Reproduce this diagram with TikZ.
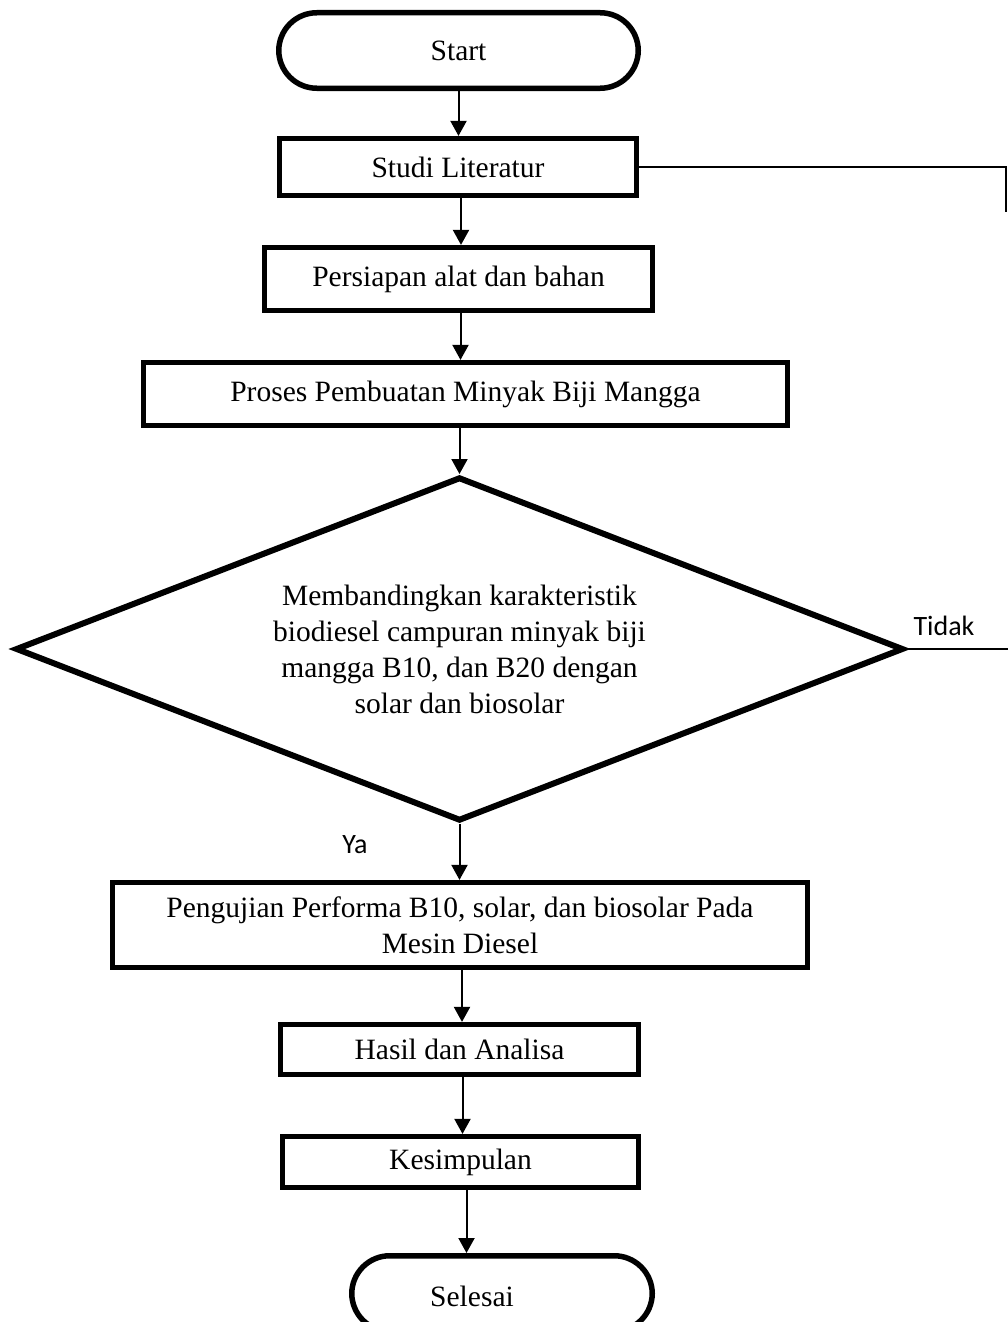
\documentclass[tikz,border=0pt]{standalone}
\usepackage{fontspec}
\setmainfont{Liberation Serif}
\newfontfamily\calibfont{Carlito}
\usetikzlibrary{shapes.geometric,arrows.meta}
\newcommand\boxfont{\fontsize{29.5}{36}\selectfont}
\newcommand\lblfont{\calibfont\fontsize{28}{34}\selectfont}
\begin{document}
\begin{tikzpicture}[x=1pt,y=-1pt,
  box/.style={draw, line width=5.2pt, rectangle, font=\boxfont, align=center, inner sep=0pt},
  term/.style={draw, line width=5.5pt, rectangle, rounded corners=38pt, inner sep=0pt, font=\boxfont},
  dec/.style={draw, line width=6pt, diamond, shape aspect=2.6, inner sep=0pt, font=\boxfont, align=center},
  arr/.style={line width=2pt, -{Triangle[width=16pt,length=15pt]}},
  ln/.style={line width=2pt},
  lbl/.style={font=\lblfont, inner sep=0pt}]
\clip (0,0) rectangle (1008,1322);
\fill[white] (0,0) rectangle (1008,1322);
% nodes
\node[term, minimum width=359.5pt, minimum height=75.5pt] (start) at (458.5,50.5) {Start};
\node[box, minimum width=357pt, minimum height=57pt] (studi) at (458,167) {Studi Literatur};
\node[box, minimum width=388pt, minimum height=63pt] (pers) at (458.5,279) {Persiapan alat dan bahan};
\node[box, minimum width=644pt, minimum height=63pt] (proses) at (465.5,394) {Proses Pembuatan Minyak Biji Mangga};
\node[dec, minimum width=888pt, minimum height=344pt] (cek) at (459.5,649)
  {Membandingkan karakteristik\\biodiesel campuran minyak biji\\mangga B10, dan B20 dengan\\solar dan biosolar};
\node[box, minimum width=695pt, minimum height=85pt] (uji) at (460,925)
  {Pengujian Performa B10, solar, dan biosolar Pada\\Mesin Diesel};
\node[box, minimum width=358pt, minimum height=50pt] (hasil) at (459.5,1049.5) {Hasil dan Analisa};
\node[box, minimum width=356pt, minimum height=51pt] (kes) at (460.5,1162) {Kesimpulan};
\node[term, minimum width=300.5pt, minimum height=75.5pt] (selesai) at (502,1293.5) {};
\node[font=\boxfont, inner sep=0pt] (selesaitxt) at (472,1296) {Selesai};
% labels
\node[lbl] (tidak) at (944,626) {Tidak};
\node[lbl] (ya) at (355,845) {Ya};
% free ends
\coordinate (r2) at (1006,212);
\coordinate (t1) at (1008,649);
% connectors
\draw[arr] (start.south) -- (start.south |- studi.north);
\draw[arr] ([xshift=3pt]studi.south) -- ([xshift=3pt]studi.south |- pers.north);
\draw[arr] ([xshift=2pt]pers.south) -- ([xshift=2pt]pers.south |- proses.north);
\draw[arr] (cek.north |- proses.south) -- (cek.north);
\draw[arr] (cek.south) -- (cek.south |- uji.north);
\draw[arr] ([xshift=2pt]uji.south) -- ([xshift=2pt]uji.south |- hasil.north);
\draw[arr] ([xshift=3pt]hasil.south) -- ([xshift=3pt]hasil.south |- kes.north);
\draw[arr] ([xshift=6pt]kes.south) -- ([xshift=6pt]kes.south |- selesai.north);
\draw[ln] (studi.east) -| (r2);
\draw[ln] (cek.east) -- (t1);
\end{tikzpicture}
\end{document}
